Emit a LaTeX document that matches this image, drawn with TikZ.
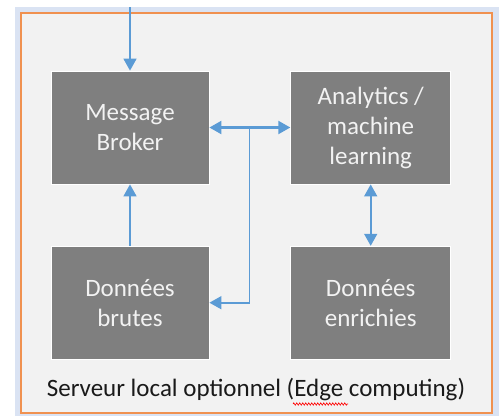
\documentclass[tikz,border=0pt]{standalone}
\usepackage{fontspec}
\setmainfont{Carlito}
\usetikzlibrary{arrows.meta,decorations.pathmorphing}
\definecolor{frameblue}{HTML}{DAE3F3}
\definecolor{edgeorange}{HTML}{ED7D31}
\definecolor{panelgray}{HTML}{F2F2F2}
\definecolor{boxgray}{HTML}{7F7F7F}
\definecolor{arrowblue}{HTML}{5B9BD5}
\definecolor{labeltext}{HTML}{1A1A1A}
\tikzset{
  box/.style={draw=white, line width=0.8pt, fill=boxgray, text=panelgray,
    minimum width=158pt, minimum height=113pt, inner sep=0pt, align=center,
    font=\fontsize{25}{30}\selectfont},
  conn/.style={draw=arrowblue, line width=1.6pt, -{Triangle[width=13pt,length=12pt]}},
  biconn/.style={draw=arrowblue, line width=1.6pt, {Triangle[width=13pt,length=12pt]}-{Triangle[width=13pt,length=12pt]}},
}
\begin{document}
\begin{tikzpicture}[x=1pt,y=-1pt]
\useasboundingbox (0,0) rectangle (502,416);
\fill[frameblue] (15,7) rectangle (499,416);
\draw[edgeorange!85, line width=2pt, fill=panelgray] (20.7,12.7) rectangle (492,413);

\node[box] (broker) at (130,127.5) {Message\\Broker};
\node[box, minimum width=160pt] (analytics) at (370.7,127.5) {Analytics /\\machine\\learning};
\node[box] (brutes) at (130,302.7) {Données\\brutes};
\node[box, minimum width=160pt] (enrichies) at (370.7,302.7) {Données\\enrichies};

\coordinate (top) at (130,7);
\coordinate (junction) at (249.3,127.5);

\draw[conn] (top) -- (broker.north);
\draw[conn] (brutes.north) -- (broker.south);
\draw[biconn, line width=2.2pt] (broker.east) -- (analytics.west);
\draw[conn] (junction) |- (brutes.east);
\draw[biconn] (analytics.south) -- (enrichies.north);

\node[text=labeltext, font=\fontsize{25}{30}\selectfont, inner sep=0pt] (label) at (256,389) {Serveur local optionnel (Edge computing)};
\draw[red, line width=0.6pt, decorate, decoration={zigzag, amplitude=1.2pt, segment length=3pt}] (293,404) -- (348,404);
\end{tikzpicture}
\end{document}
